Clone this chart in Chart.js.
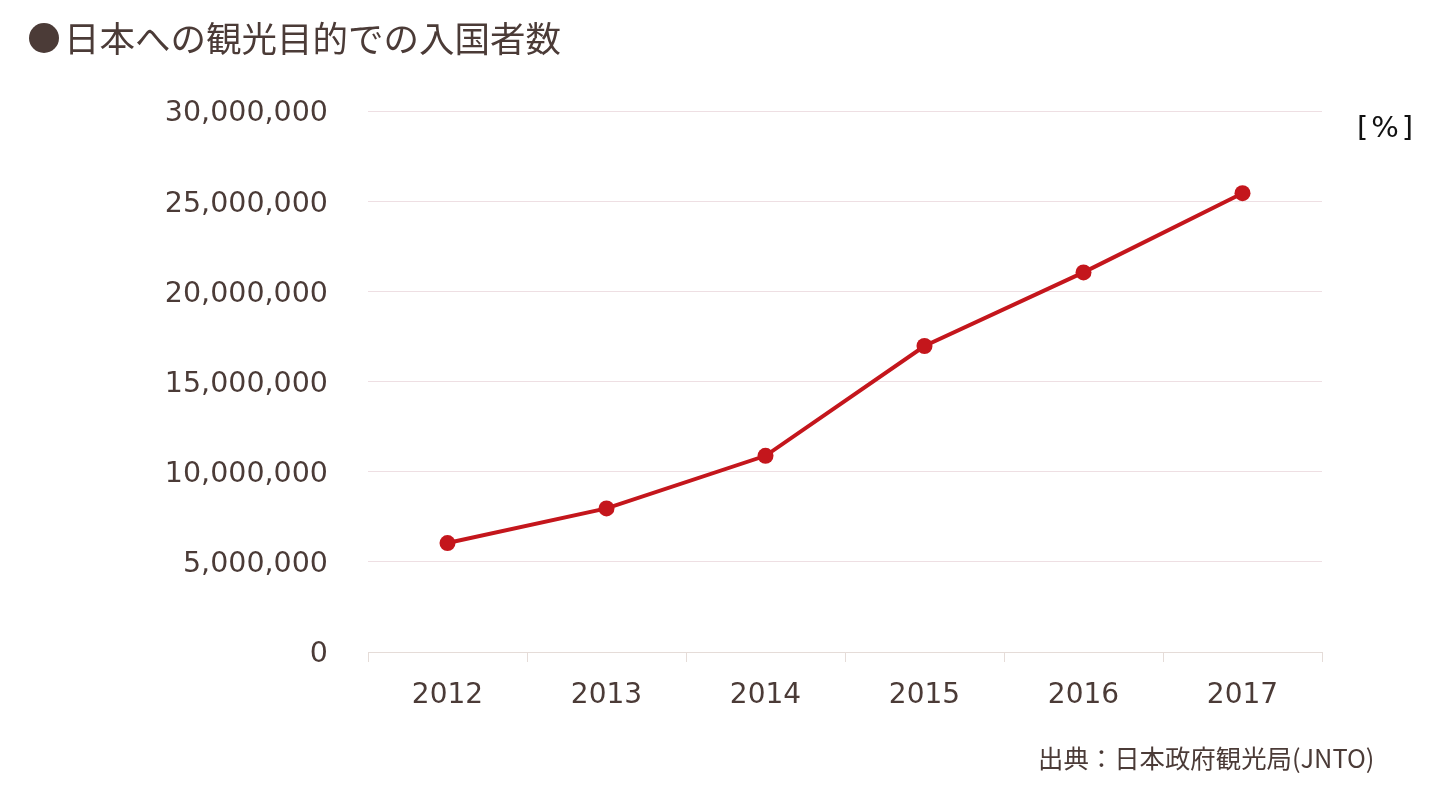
<!DOCTYPE html>
<html>
<head>
<meta charset="utf-8">
<script src="https://cdn.jsdelivr.net/npm/chart.js@4"></script>
<style>
  html, body { margin: 0; padding: 0; background: #fff; }
  #wrap { position: relative; width: 1433px; height: 788px; }
  #bullet { position: absolute; left: 29px; top: 23px; width: 30px; height: 30px; border-radius: 50%; background: #4b3b37; }
  #title { position: absolute; left: 64px; top: 13px; font-family: "Noto Sans CJK JP", sans-serif; font-size: 35.5px; color: #4b3b37; white-space: nowrap; line-height: 48px; }
  #unit { position: absolute; left: 1357px; top: 108px; font-family: "DejaVu Sans", sans-serif; font-size: 29px; letter-spacing: 3px; color: #111; line-height: 38px; }
  #source { position: absolute; left: 1038px; top: 739px; font-family: "Noto Sans CJK JP", sans-serif; font-size: 25.4px; color: #4b3b37; white-space: nowrap; line-height: 36px; }
</style>
</head>
<body>
<div id="wrap">
  <canvas id="visitorChart" width="1433" height="788"></canvas>
  <div id="bullet"></div>
  <div id="title">日本への観光目的での入国者数</div>
  <div id="unit">[%]</div>
  <div id="source">出典：日本政府観光局(JNTO)</div>
</div>
<script>
const years = ["2012", "2013", "2014", "2015", "2016", "2017"];
const visitors = [6041645, 7962517, 10880604, 16969126, 21049676, 25441593];
const yTicks = [0, 5000000, 10000000, 15000000, 20000000, 25000000, 30000000];

document.addEventListener('DOMContentLoaded', function() {
    const ctx = document.getElementById('visitorChart').getContext('2d');
    const textColor = '#4b3b37';

    new Chart(ctx, {
        type: 'line',
        data: {
            labels: years,
            datasets: [{
                label: '入国者数',
                data: visitors,
                borderColor: '#c4161c',
                backgroundColor: '#c4161c',
                borderWidth: 4,
                pointRadius: 8,
                pointHoverRadius: 8,
                pointBorderWidth: 0,
                tension: 0
            }]
        },
        options: {
            responsive: false,
            animation: false,
            layout: {
                padding: { top: 111, right: 111, bottom: 36, left: 0 }
            },
            plugins: {
                legend: { display: false },
                tooltip: { enabled: false }
            },
            scales: {
                x: {
                    offset: true,
                    afterFit: function(scale) { scale.height = 100; },
                    border: { color: '#e5dcd8', width: 1 },
                    grid: {
                        offset: true,
                        drawOnChartArea: false,
                        drawTicks: true,
                        tickLength: 10,
                        color: '#e5dcd8'
                    },
                    ticks: {
                        color: textColor,
                        padding: 17,
                        font: { family: 'DejaVu Sans', size: 28 }
                    }
                },
                y: {
                    min: 0,
                    max: 30000000,
                    afterFit: function(scale) { scale.width = 368; },
                    afterBuildTicks: function(scale) {
                        scale.ticks = yTicks.map(v => ({ value: v }));
                    },
                    border: { display: false },
                    grid: {
                        drawTicks: false,
                        color: '#eedfe3'
                    },
                    ticks: {
                        color: textColor,
                        padding: 40,
                        labelOffset: 3,
                        font: { family: 'DejaVu Sans', size: 28.5 },
                        callback: function(v) { return v.toLocaleString('en-US'); }
                    }
                }
            }
        }
    });
});
</script>
</body>
</html>
